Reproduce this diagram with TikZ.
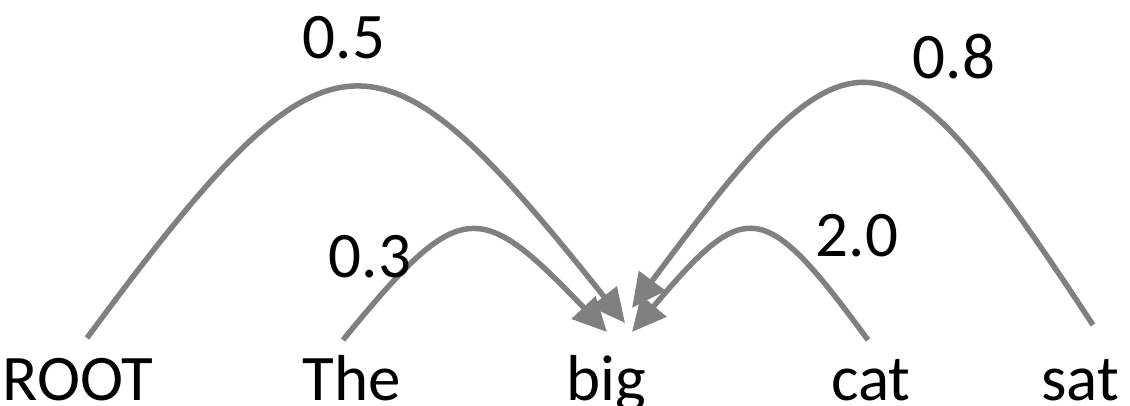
\documentclass[tikz,border=0pt]{standalone}
\usepackage{fontspec}
\setmainfont{Carlito}
\usetikzlibrary{arrows.meta}
\definecolor{arcgray}{RGB}{128,128,128}
\tikzset{
  word/.style={anchor=base, inner sep=0pt, font=\fontsize{65}{78}\selectfont},
  weight/.style={anchor=center, inner sep=0pt, font=\fontsize{65}{78}\selectfont},
  arc/.style={draw=arcgray, line width=5.5pt,
    -{Triangle[length=34pt,width=32pt]}}
}
\begin{document}
\begin{tikzpicture}[x=1pt,y=-1pt]
\useasboundingbox (0,0) rectangle (1130,406);
% words
\node[word] (root) at (78,400) {ROOT};
\node[word] (the)  at (352,400) {The};
\node[word] (big)  at (606,400) {big};
\node[word] (cat)  at (871,400) {cat};
\node[word] (sat)  at (1080,400) {sat};
% arc ends
\coordinate (rootS) at (87,338);
\coordinate (theS) at (343,340);
\coordinate (catS) at (868,340);
\coordinate (satS) at (1093,325);
\coordinate (bigA) at (625,323);
\coordinate (bigB) at (607,332);
\coordinate (bigC) at (632,308);
\coordinate (bigD) at (632,332);
% arcs
\draw[arc] (rootS) .. controls (330,9) and (375,9) .. (bigA);
\draw[arc] (theS) .. controls (460,197) and (478,197) .. (bigB);
\draw[arc] (satS) .. controls (885,9) and (854,9) .. (bigC);
\draw[arc] (catS) .. controls (763,197) and (746,197) .. (bigD);
% weights
\node[weight] (w05) at (344,38) {0.5};
\node[weight] (w08) at (954,57) {0.8};
\node[weight] (w03) at (370,257) {0.3};
\node[weight] (w20) at (857,236) {2.0};
\end{tikzpicture}
\end{document}
